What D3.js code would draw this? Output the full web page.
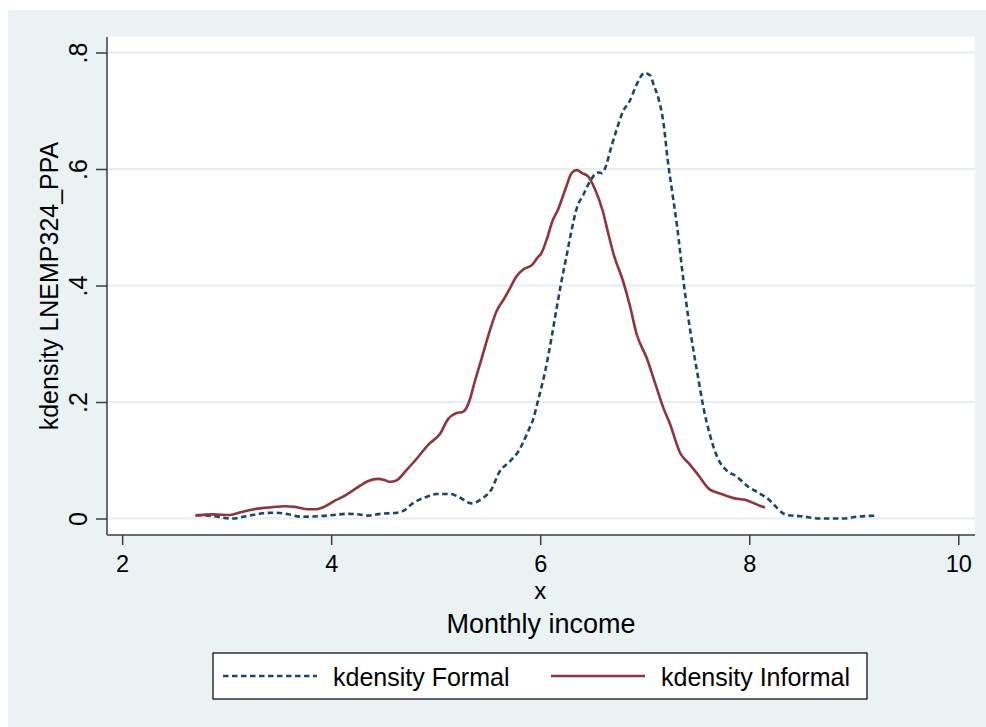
<!DOCTYPE html>
<html>
<head>
<meta charset="utf-8">
<script src="https://cdn.jsdelivr.net/npm/d3@7"></script>
<style>
    body { margin: 0; background: #ffffff; }
    text { font-family: "Liberation Sans", Arial, sans-serif; fill: #000; }
</style>
</head>
<body>
<svg id="chart" width="986" height="727"></svg>
<script>
// kdensity estimates
var formalIncome = [2.71, 2.87, 3.05, 3.19, 3.35, 3.46, 3.57, 3.72, 3.89, 4.02, 4.15, 4.27, 4.35, 4.47, 4.63, 4.69,
    4.78, 4.91, 5.01, 5.14, 5.23, 5.34, 5.45, 5.53, 5.61, 5.71, 5.79, 5.89, 5.93, 5.98, 6.05, 6.11, 6.16, 6.20,
    6.25, 6.30, 6.35, 6.41, 6.48, 6.55, 6.59, 6.62, 6.68, 6.73, 6.79, 6.86, 6.92, 7.00, 7.05, 7.09, 7.13, 7.18,
    7.22, 7.26, 7.31, 7.37, 7.42, 7.46, 7.51, 7.56, 7.62, 7.70, 7.78, 7.88, 7.98, 8.10, 8.17, 8.36, 8.49, 8.68,
    8.90, 9.03, 9.22];
var formalDensity = [0.006, 0.004, 0.000, 0.004, 0.009, 0.010, 0.008, 0.003, 0.004, 0.006, 0.008, 0.007, 0.005, 0.008, 0.010, 0.013,
    0.026, 0.037, 0.042, 0.042, 0.036, 0.026, 0.035, 0.049, 0.080, 0.098, 0.115, 0.152, 0.169, 0.203, 0.255, 0.312, 0.364, 0.404,
    0.449, 0.495, 0.533, 0.555, 0.580, 0.594, 0.593, 0.601, 0.638, 0.667, 0.698, 0.718, 0.744, 0.765, 0.761, 0.742, 0.722, 0.678,
    0.615, 0.564, 0.501, 0.409, 0.341, 0.295, 0.243, 0.192, 0.146, 0.103, 0.083, 0.072, 0.056, 0.043, 0.035, 0.006, 0.004, 0.000,
    0.000, 0.003, 0.005];

var informalIncome = [2.70, 2.87, 3.03, 3.14, 3.30, 3.41, 3.56, 3.65, 3.78, 3.86, 3.92, 4.04, 4.11, 4.24, 4.35, 4.45,
    4.51, 4.56, 4.63, 4.72, 4.82, 4.93, 5.04, 5.12, 5.20, 5.26, 5.33, 5.36, 5.44, 5.50, 5.58, 5.65, 5.71, 5.77,
    5.84, 5.92, 5.98, 6.01, 6.06, 6.12, 6.17, 6.22, 6.25, 6.30, 6.35, 6.40, 6.46, 6.52, 6.60, 6.65, 6.71, 6.79,
    6.86, 6.92, 7.02, 7.10, 7.18, 7.24, 7.34, 7.42, 7.51, 7.62, 7.72, 7.85, 7.96, 8.10, 8.15];
var informalDensity = [0.005, 0.007, 0.006, 0.011, 0.017, 0.019, 0.021, 0.020, 0.016, 0.016, 0.019, 0.031, 0.037, 0.052, 0.064, 0.068,
    0.066, 0.063, 0.066, 0.083, 0.103, 0.127, 0.145, 0.171, 0.181, 0.183, 0.206, 0.226, 0.275, 0.312, 0.355, 0.376, 0.395, 0.415,
    0.428, 0.435, 0.449, 0.455, 0.478, 0.512, 0.530, 0.555, 0.570, 0.593, 0.598, 0.593, 0.587, 0.567, 0.527, 0.490, 0.449, 0.409,
    0.364, 0.318, 0.275, 0.232, 0.189, 0.163, 0.112, 0.095, 0.075, 0.050, 0.043, 0.035, 0.032, 0.022, 0.019];

var xTicks = [2, 4, 6, 8, 10];
var yTicks = [0, 0.2, 0.4, 0.6, 0.8];
var seriesNames = ["kdensity Formal", "kdensity Informal"];
var seriesColors = ["#1a476f", "#90353b"];

var margin = {top: 37, right: 11, bottom: 192, left: 107};
var width = 986 - margin.left - margin.right,
    height = 727 - margin.top - margin.bottom;

var svg = d3.select("#chart");

// stata-ish outer background
svg.append("rect")
    .attr("x", 8)
    .attr("y", 10)
    .attr("width", 978)
    .attr("height", 717)
    .attr("fill", "#eaf2f3");

var g = svg.append("g")
    .attr("transform", "translate(" + margin.left + "," + margin.top + ")");

g.append("rect")
    .attr("width", width)
    .attr("height", height)
    .attr("fill", "#ffffff");

var xScale = d3.scaleLinear()
    .domain([1.855, 10.16])
    .range([0, width]);

var yScale = d3.scaleLinear()
    .domain([0, 0.8])
    .range([481.5, 15.5]);

// grid
g.selectAll(".grid")
    .data(yTicks)
    .enter().append("line")
    .attr("class", "grid")
    .attr("x1", 0)
    .attr("x2", width)
    .attr("y1", function(d) { return yScale(d); })
    .attr("y2", function(d) { return yScale(d); })
    .attr("stroke", "#e6eef1")
    .attr("stroke-width", 1.8);

var xAxis = d3.axisBottom(xScale)
    .tickValues(xTicks)
    .tickSize(10)
    .tickPadding(5)
    .tickFormat(d3.format("d"));

var yAxis = d3.axisLeft(yScale)
    .tickValues(yTicks)
    .tickSize(11)
    .tickFormat(function(d) { return d === 0 ? "0" : d3.format(".1f")(d).replace(/^0/, ""); });

var xg = g.append("g")
    .attr("transform", "translate(0," + height + ")")
    .call(xAxis);

xg.select(".domain").remove();
xg.append("line")
    .attr("x1", 0)
    .attr("x2", width)
    .attr("stroke", "#3c3c3c")
    .attr("stroke-width", 1.5);
xg.selectAll(".tick line").attr("stroke", "#3c3c3c").attr("stroke-width", 1.5);
xg.selectAll(".tick text")
    .attr("y", 37)
    .attr("dy", null)
    .style("font-size", "23.5px")
    .style("font-family", "'Liberation Sans', Arial, sans-serif")
    .attr("fill", "#000");

var yg = g.append("g").call(yAxis);
yg.select(".domain").remove();
yg.append("line")
    .attr("y1", 0)
    .attr("y2", height)
    .attr("stroke", "#3c3c3c")
    .attr("stroke-width", 1.5);
yg.selectAll(".tick line").attr("stroke", "#3c3c3c").attr("stroke-width", 1.5);
yg.selectAll(".tick text")
    .attr("x", null)
    .attr("dy", null)
    .attr("text-anchor", "middle")
    .attr("transform", "translate(-20,0) rotate(-90)")
    .style("font-size", "25px")
    .style("font-family", "'Liberation Sans', Arial, sans-serif")
    .attr("fill", "#000");

// lines
var line = d3.line()
    .x(function(d) { return xScale(d[0]); })
    .y(function(d) { return yScale(d[1]); })
    .curve(d3.curveMonotoneX);

var formal = d3.zip(formalIncome, formalDensity);
var informal = d3.zip(informalIncome, informalDensity);

g.append("path")
    .datum(formal)
    .attr("d", line)
    .attr("fill", "none")
    .attr("stroke", seriesColors[0])
    .attr("stroke-width", 2.6)
    .attr("stroke-dasharray", "5.5,3.5");

g.append("path")
    .datum(informal)
    .attr("d", line)
    .attr("fill", "none")
    .attr("stroke", seriesColors[1])
    .attr("stroke-width", 2.6);

// axis titles
svg.append("text")
    .attr("transform", "translate(58," + (margin.top + height / 2) + ") rotate(-90)")
    .attr("text-anchor", "middle")
    .style("font-size", "25px")
    .text("kdensity LNEMP324_PPA");

svg.append("text")
    .attr("x", margin.left + xScale(6))
    .attr("y", 599)
    .attr("text-anchor", "middle")
    .style("font-size", "24px")
    .text("x");

svg.append("text")
    .attr("x", margin.left + width / 2)
    .attr("y", 633)
    .attr("text-anchor", "middle")
    .style("font-size", "27px")
    .text("Monthly income");

// legend
var legend = svg.append("g");
legend.append("rect")
    .attr("x", 213)
    .attr("y", 653)
    .attr("width", 654)
    .attr("height", 46)
    .attr("fill", "#ffffff")
    .attr("stroke", "#000")
    .attr("stroke-width", 1.2);

var legendX = [223, 551];
seriesNames.forEach(function(name, i) {
    legend.append("line")
        .attr("x1", legendX[i])
        .attr("x2", legendX[i] + 94)
        .attr("y1", 676)
        .attr("y2", 676)
        .attr("stroke", seriesColors[i])
        .attr("stroke-width", 2.6)
        .attr("stroke-dasharray", i === 0 ? "5.5,3.5" : null);
    legend.append("text")
        .attr("x", legendX[i] + 110)
        .attr("y", 686)
        .style("font-size", "25px")
        .text(name);
});
</script>
</body>
</html>
